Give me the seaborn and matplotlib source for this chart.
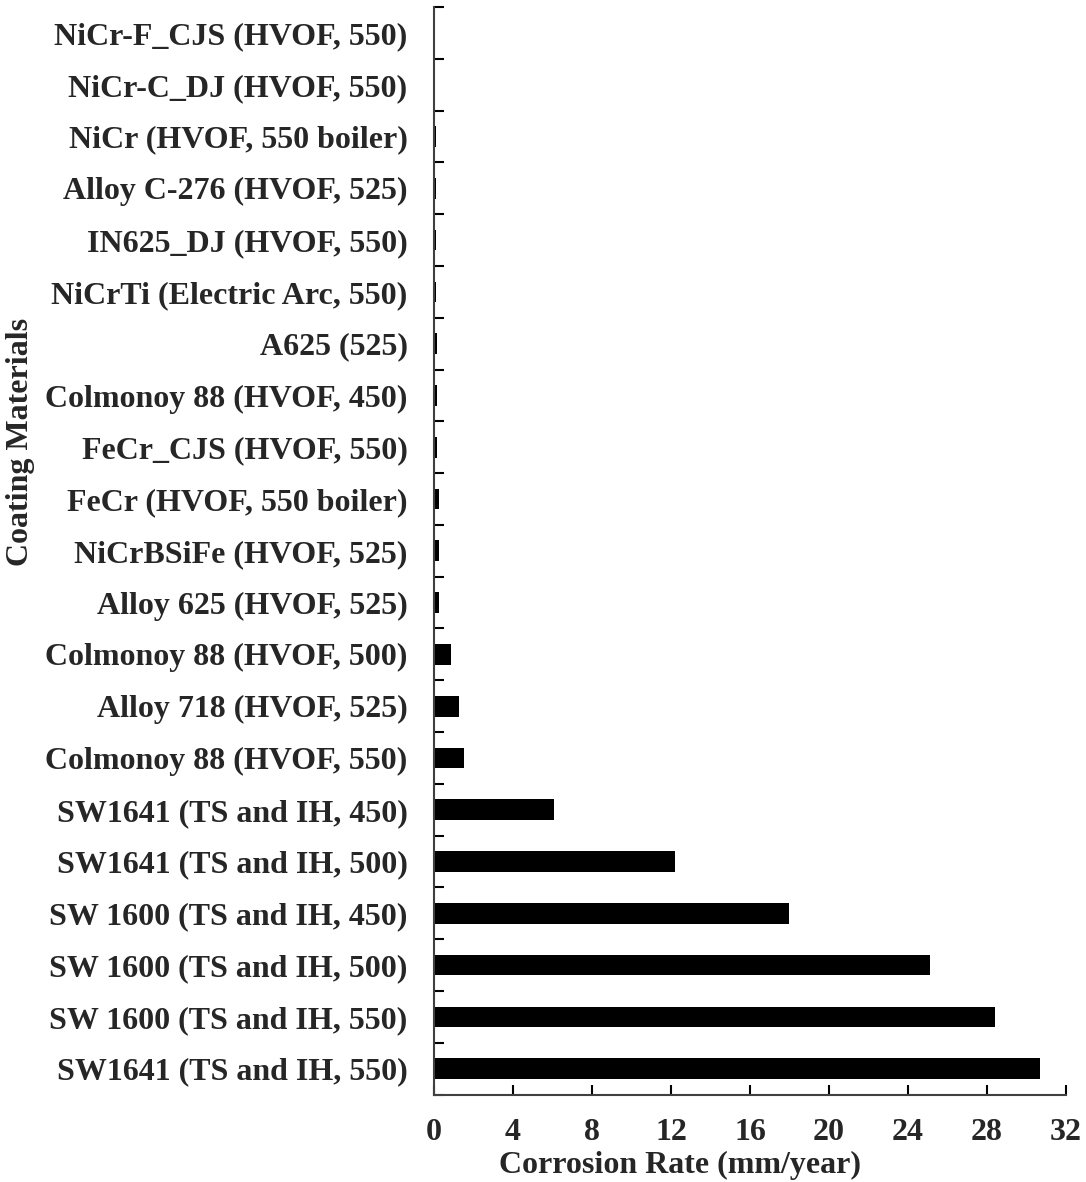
import numpy as np
import pandas as pd
import seaborn as sns
import matplotlib.pyplot as plt
from matplotlib.ticker import FixedLocator

sns.set_theme(style='ticks')
plt.rcParams['font.family'] = ['Liberation Serif', 'DejaVu Serif']
plt.rcParams['font.weight'] = 'bold'

# %% data (top to bottom, as in the chart)
materials = [
    'NiCr-F_CJS (HVOF, 550)',
    'NiCr-C_DJ (HVOF, 550)',
    'NiCr (HVOF, 550 boiler)',
    'Alloy C-276 (HVOF, 525)',
    'IN625_DJ (HVOF, 550)',
    'NiCrTi (Electric Arc, 550)',
    'A625 (525)',
    'Colmonoy 88 (HVOF, 450)',
    'FeCr_CJS (HVOF, 550)',
    'FeCr (HVOF, 550 boiler)',
    'NiCrBSiFe (HVOF, 525)',
    'Alloy 625 (HVOF, 525)',
    'Colmonoy 88 (HVOF, 500)',
    'Alloy 718 (HVOF, 525)',
    'Colmonoy 88 (HVOF, 550)',
    'SW1641 (TS and IH, 450)',
    'SW1641 (TS and IH, 500)',
    'SW 1600 (TS and IH, 450)',
    'SW 1600 (TS and IH, 500)',
    'SW 1600 (TS and IH, 550)',
    'SW1641 (TS and IH, 550)',
]
corrosion_rate = [0.07, 0.07, 0.08, 0.08, 0.08, 0.09, 0.13, 0.16, 0.16, 0.24,
                  0.27, 0.27, 0.88, 1.27, 1.54, 6.1, 12.2, 18.0, 25.1, 28.4, 30.7]
x_ticks = [0, 4, 8, 12, 16, 20, 24, 28, 32]

df = pd.DataFrame({'material': materials, 'rate': corrosion_rate})

# %% plot
fs = 23
fig = plt.figure(figsize=(10.86, 11.82), dpi=100)
ax = fig.add_axes([0.3996, 0.074, 0.5820, 0.920])

sns.barplot(data=df, x='rate', y='material', order=materials, color='black',
            width=0.4, saturation=1, edgecolor='black', linewidth=0, ax=ax)

n = len(materials)
ax.set_xlim(0, 32)
ax.set_ylim(n - 0.5, -0.5)
ax.set_xticks(x_ticks)
ax.set_xticklabels([str(t) for t in x_ticks])

# category labels at centres, tick marks at boundaries
ax.tick_params(axis='y', which='major', length=0, pad=19, labelsize=fs)
ax.yaxis.set_minor_locator(FixedLocator(np.arange(-0.5, n, 1.0)))
ax.tick_params(axis='y', which='minor', direction='in', length=7, width=1.5, color='black')
ax.tick_params(axis='x', which='major', direction='in', length=7, width=1.5,
               color='black', pad=17, labelsize=fs)

for lab in ax.get_yticklabels() + ax.get_xticklabels():
    lab.set_fontweight('bold')

ax.set_xlabel('Corrosion Rate (mm/year)', fontsize=fs, fontweight='bold')
ax.xaxis.set_label_coords(0.39, -0.052)
ax.set_ylabel('Coating Materials', fontsize=fs, fontweight='bold')
ax.yaxis.set_label_coords(-0.632, 0.60)

sns.despine(ax=ax, top=True, right=True)
for side in ['left', 'bottom']:
    ax.spines[side].set_color('#404040')
    ax.spines[side].set_linewidth(1.5)

plt.savefig('out.png', dpi=100)
